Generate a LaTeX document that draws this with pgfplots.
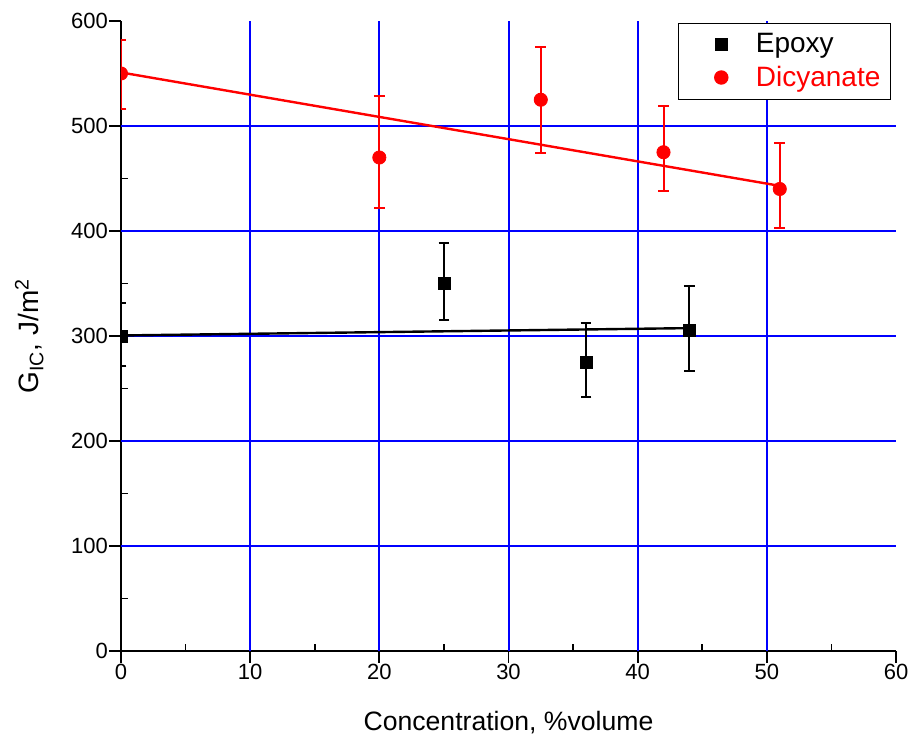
\documentclass[border=0pt]{standalone}
\usepackage{pgfplots}
\pgfplotsset{compat=1.18}
\usepackage{fontspec}
\setmainfont{Liberation Sans}
\definecolor{myred}{RGB}{255,0,0}
\definecolor{myblue}{RGB}{0,0,255}
\begin{document}
\begin{tikzpicture}
\begin{axis}[
  name=ax,
  scale only axis,
  width=387.5pt, height=315pt,
  xmin=0, xmax=60, ymin=0, ymax=600,
  axis lines=left,
  axis line style={-, line width=0.9pt},
  xtick={0,10,...,60}, ytick={0,100,...,600},
  minor x tick num=1, minor y tick num=1,
  tick align=inside,
  major tick length=6pt, minor tick length=3.5pt,
  every major x tick/.append style={yshift=-6pt},
  every major y tick/.append style={xshift=-6pt},
  every tick/.append style={black, line width=0.9pt},
  /pgf/number format/assume math mode=true,
  tick label style={font=\fontsize{11}{13}\selectfont},
  xticklabel style={yshift=-3pt},
  yticklabel style={xshift=-3pt},
  xlabel={Concentration, \%volume},
  ylabel={G\textsubscript{IC}, J/m\textsuperscript{2}},
  xlabel style={font=\fontsize{13.3}{15}\selectfont, yshift=-9pt},
  ylabel style={font=\fontsize{14}{16}\selectfont, yshift=7pt},
  clip marker paths=true,
  legend style={at={(rel axis cs:1,1)}, anchor=north east, xshift=-2.5pt, yshift=-1pt,
    draw=black, line width=0.6pt, font=\fontsize{14}{17}\selectfont, row sep=1pt,
    inner xsep=3pt, inner ysep=3pt},
  legend cell align=left,
  legend image code/.code={\path (0pt,0pt) (33pt,0pt); \draw[#1] plot coordinates {(18pt,0pt)};},
]
\pgfplotsinvokeforeach{10,20,30,40,50}{
  \draw[myblue, line width=1pt] (axis cs:#1,0) -- (axis cs:#1,600);
}
\pgfplotsinvokeforeach{100,200,300,400,500}{
  \draw[myblue, line width=1pt] (axis cs:0,#1) -- (axis cs:60,#1);
}
\addplot[black, only marks, mark=square*, mark size=3pt,
  error bars/.cd, y dir=both, y explicit,
  error bar style={line width=1pt, black},
  error mark options={rotate=90, mark size=2.7pt, line width=1pt, black}]
  table[x=x, y=y, y error plus=ep, y error minus=em] {
x y ep em
0 300 31 29
25 350 39 35
36 275 37 33
44 305 43 38
};
\addlegendentry{Epoxy}
\addplot[myred, only marks, mark=*, mark size=3.3pt,
  error bars/.cd, y dir=both, y explicit,
  error bar style={line width=1pt, myred},
  error mark options={rotate=90, mark size=2.7pt, line width=1pt, myred}]
  table[x=x, y=y, y error plus=ep, y error minus=em] {
x y ep em
0 550 32 34
20 470 59 48
32.5 525 50 51
42 475 44 37
51 440 44 37
};
\addlegendentry{\textcolor{myred}{Dicyanate}}
\addplot[black, line width=1.2pt, forget plot] coordinates {(0,300.5) (44,307.5)};
\addplot[myred, line width=1.2pt, forget plot] coordinates {(0,551) (51,443)};
\end{axis}
\pgfresetboundingbox
\path ([xshift=-60.5pt,yshift=-45.5pt]ax.south west) rectangle ([xshift=6.5pt,yshift=10.5pt]ax.north east);
\end{tikzpicture}
\end{document}
